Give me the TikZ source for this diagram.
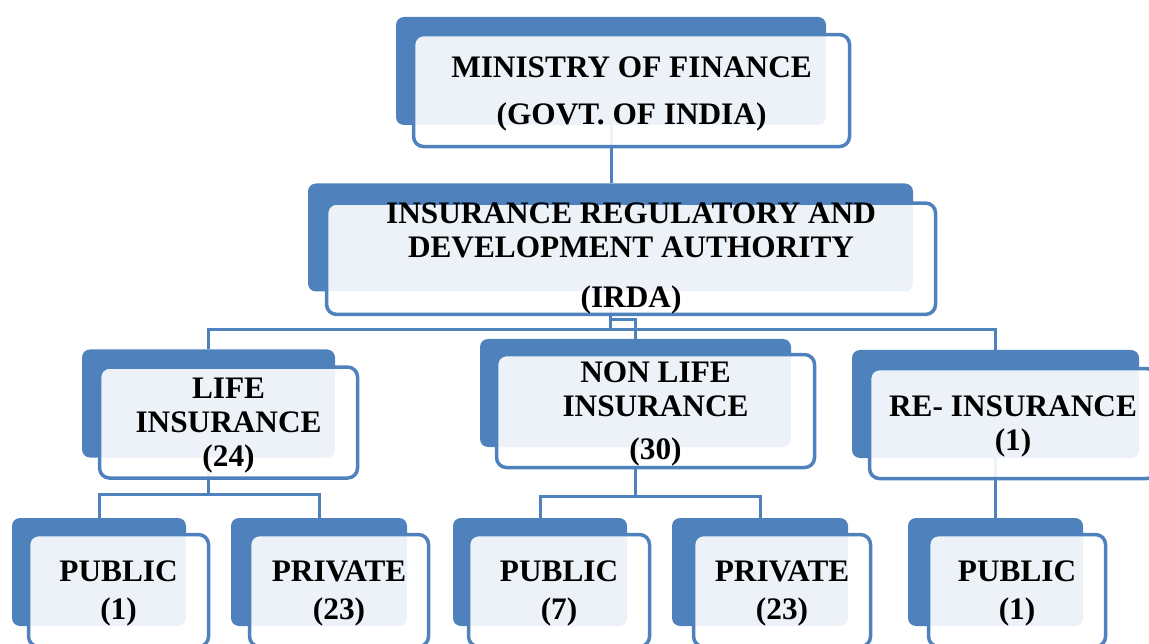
\documentclass[tikz,border=0pt]{standalone}
\usepackage{fontspec}
\setmainfont{Liberation Serif}
\usetikzlibrary{positioning}
\definecolor{orgblue}{HTML}{4F81BD}
\newcommand{\boxstrut}{\rule{0pt}{27pt}}
\tikzstyle{backbox} = [rectangle, rounded corners=8pt, fill=orgblue, draw=none, minimum height=108pt, inner sep=0pt]
\tikzstyle{frontbox} = [rectangle, rounded corners=10pt, draw=orgblue, line width=3.5pt, fill=white, fill opacity=0.9, text opacity=1, align=center, inner sep=0pt, font=\fontsize{31.3pt}{34pt}\selectfont\bfseries]
\tikzstyle{line} = [draw=orgblue, line width=3pt]

\begin{document}
\begin{tikzpicture}[x=1pt, y=1pt]
		\useasboundingbox (0,0) rectangle (1149,-644);
		\clip (0,0) rectangle (1149,-644);

		% back boxes
		\node (mof_bg) [backbox, minimum width=430pt] at (611,-71) {};
		\node (irda_bg) [backbox, minimum width=605pt] at (610.5,-237.5) {};
		\node (life_bg) [backbox, minimum width=253pt] at (208.5,-403.5) {};
		\node (nonlife_bg) [backbox, minimum width=311pt] at (635.5,-393) {};
		\node (reins_bg) [backbox, minimum width=287pt] at (995.5,-404) {};
		\node (pub1_bg) [backbox, minimum width=174pt] at (99,-572) {};
		\node (priv1_bg) [backbox, minimum width=176pt] at (319,-572) {};
		\node (pub7_bg) [backbox, minimum width=174pt] at (540,-572) {};
		\node (priv23_bg) [backbox, minimum width=176pt] at (760,-572) {};
		\node (pubre_bg) [backbox, minimum width=175pt] at (995.5,-572) {};

		% connectors
		\draw [line] (mof_bg.south) -- (mof_bg.south |- irda_bg.north);
		\draw [line] (irda_bg.south) -- ++(0,-28) -| (nonlife_bg.north);
		\draw [line] (irda_bg.south) -- ++(0,-38) -| (life_bg.north);
		\draw [line] (irda_bg.south) -- ++(0,-38) -| (reins_bg.north);
		\draw [line] (life_bg.south) -- ++(0,-37) -| (pub1_bg.north);
		\draw [line] (life_bg.south) -- ++(0,-37) -| (priv1_bg.north);
		\draw [line] (nonlife_bg.south) -- ++(0,-49) -| (pub7_bg.north);
		\draw [line] (nonlife_bg.south) -- ++(0,-49) -| (priv23_bg.north);
		\draw [line] (reins_bg.south) -- (pubre_bg.north);

		% front boxes
		\node (mof) [frontbox, minimum width=436pt, minimum height=112pt, below right=16pt and 16pt of mof_bg.north west] {\boxstrut MINISTRY OF FINANCE\\[13pt](GOVT. OF INDIA)};
		\node (irda) [frontbox, minimum width=609pt, minimum height=110pt, below right=18pt and 17pt of irda_bg.north west] {INSURANCE REGULATORY AND\\DEVELOPMENT AUTHORITY\\[16pt](IRDA)};
		\node (life) [frontbox, minimum width=258pt, minimum height=111pt, below right=16pt and 16pt of life_bg.north west] {\boxstrut LIFE\\INSURANCE\\(24)};
		\node (nonlife) [frontbox, minimum width=318pt, minimum height=113pt, below right=14pt and 15pt of nonlife_bg.north west] {\boxstrut NON LIFE\\INSURANCE\\[9pt](30)};
		\node (reins) [frontbox, minimum width=287pt, minimum height=110pt, below right=17pt and 16pt of reins_bg.north west] {\boxstrut RE- INSURANCE\\(1)};
		\node (pub1) [frontbox, minimum width=180pt, minimum height=112pt, below right=15pt and 15pt of pub1_bg.north west] {\boxstrut PUBLIC\\[4pt](1)};
		\node (priv1) [frontbox, minimum width=179pt, minimum height=112pt, below right=15pt and 17pt of priv1_bg.north west] {\boxstrut PRIVATE\\[4pt](23)};
		\node (pub7) [frontbox, minimum width=181pt, minimum height=112pt, below right=15pt and 14pt of pub7_bg.north west] {\boxstrut PUBLIC\\[4pt](7)};
		\node (priv23) [frontbox, minimum width=177pt, minimum height=112pt, below right=15pt and 20pt of priv23_bg.north west] {\boxstrut PRIVATE\\[4pt](23)};
		\node (pubre) [frontbox, minimum width=177pt, minimum height=112pt, below right=15pt and 19pt of pubre_bg.north west] {\boxstrut PUBLIC\\[4pt](1)};

		\end{tikzpicture}
\end{document}
